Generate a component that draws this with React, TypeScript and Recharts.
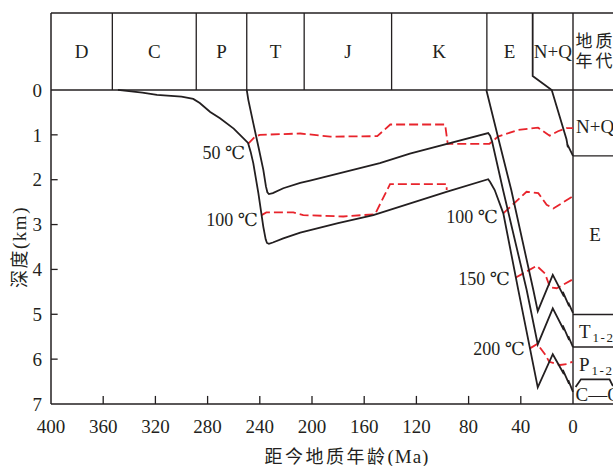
import React from "react";
import { ComposedChart, Line, XAxis, YAxis, ReferenceLine, ReferenceDot } from "recharts";

const SERIF = '"Liberation Serif", "Times New Roman", "DejaVu Serif", serif';
const CJK = '"Noto Sans CJK SC", "Noto Sans", sans-serif';
const INK = "#231f20";
const RED = "#e8242c";

// axes
const AGE_TICKS = [400, 360, 320, 280, 240, 200, 160, 120, 80, 40, 0];
const DEPTH_TICKS = [0, 1, 2, 3, 4, 5, 6, 7];
const AGE_DOMAIN = [-30.65, 400];
const HEADER_TOP = -1.716;
const DEPTH_DOMAIN = [HEADER_TOP, 7];

// geologic time band on top
const PERIOD_BOUNDS = [353, 288.7, 250, 206, 139, 66];
const PERIOD_NAMES = ["D", "C", "P", "T", "J", "K", "E", "N+Q"];
const PERIOD_MIDS = [376.5, 320.9, 269.4, 228, 172.5, 102.5, 48.6, 15.4];

// present-day stratigraphic column (tops, km)
const STRAT_TOPS = [1.471, 5.005, 5.729];

// burial curves [age Ma, depth km]
const NQ_BASE = [[30.9, HEADER_TOP], [30.9, -0.31], [16.3, 0], [5.0, 1.1], [3.9, 1.28], [4.5, 1.2], [0, 1.47]];
const E_BASE = [[66.4, 0], [56, 1.22], [47.3, 2.23], [30.4, 4.46], [27, 4.93], [15.5, 4.12], [7, 4.6], [7.8, 4.5], [3, 4.82], [3.6, 4.74], [0, 4.97]];
const T_BASE = [
  [250, 0], [248.8, 0.22], [245, 0.74], [241.1, 1.26], [237.3, 1.78], [235.3, 2.15], [234.2, 2.28], [233, 2.32],
  [230, 2.3], [222, 2.19], [209, 2.07], [201.5, 2.02], [148, 1.63], [125, 1.42], [65, 0.96], [63.5, 1.02],
  [62, 1.15], [53.6, 2.23], [35.5, 4.46], [27, 5.67], [15.5, 4.87], [7, 5.35], [7.8, 5.25], [3, 5.57], [3.6, 5.49], [0, 5.73],
];
const C_BASE = [
  [348.7, 0], [330, 0.06], [318.8, 0.11], [300, 0.15], [291, 0.2], [286, 0.29], [278, 0.49], [270.5, 0.63],
  [260, 0.86], [249, 1.18], [247, 1.38], [245, 1.63], [241.1, 2.3], [237.3, 3.05], [235.5, 3.33], [234.5, 3.41],
  [233, 3.43], [230, 3.4], [222, 3.31], [209, 3.18], [180, 2.97], [153, 2.79], [97, 2.27], [65, 1.99],
  [63.5, 2.05], [60, 2.23], [53.4, 2.75], [41.9, 4.46], [27, 6.63], [15.5, 5.89], [7, 6.33], [7.8, 6.24],
  [3, 6.55], [3.6, 6.47], [0, 6.73],
];
const BRACE = [[-2.0, 6.62], [-6.1, 6.45], [-28.0, 6.45], [-30.6, 6.6]];

// isotherms
const ISO_50 = [[249, 1.2], [244, 1.05], [240, 1.0], [209, 0.97], [186, 1.04], [150, 1.03], [140, 0.77], [98, 0.77], [96, 1.2], [64, 1.2], [57.5, 1.04], [42, 0.89], [26.8, 0.84], [17.9, 1.02], [11.5, 0.92], [5, 0.85], [0, 0.85]];
const ISO_100A = [[238.6, 2.79], [235, 2.73], [214.3, 2.73], [206.7, 2.79], [176, 2.82], [151.7, 2.77], [140.2, 2.1], [96.8, 2.1], [96.8, 2.23]];
const ISO_100B = [[53.4, 2.75], [35.6, 2.27], [26.6, 2.3], [20.2, 2.56], [15.1, 2.64], [0, 2.37]];
const ISO_150 = [[43.8, 4.18], [27.8, 3.92], [21.5, 4.09], [17.6, 4.4], [12.5, 4.42], [0, 4.22]];
const ISO_200 = [[33, 5.76], [27.4, 5.66], [21.5, 5.89], [18.2, 6.06], [10, 6.13], [4.8, 6.11], [0.5, 6.06]];

const ISO_LABELS = ["50 ℃", "100 ℃", "100 ℃", "150 ℃", "200 ℃"];
const ISO_LABEL_AT = [[251.3, 1.4], [241.4, 2.9], [57.5, 2.83], [48.3, 4.21], [36.8, 5.77]];

const toPts = (arr) => arr.map(([age, depth]) => ({ age, depth }));

const curves = [NQ_BASE, E_BASE, T_BASE, C_BASE, BRACE];
const isotherms = [ISO_50, ISO_100A, ISO_100B, ISO_150, ISO_200];

function TextAt({ x, y, render }) {
  return <ReferenceDot x={x} y={y} r={1} ifOverflow="visible" shape={(p) => render(p.cx, p.cy)} />;
}

const serifText = (s, anchor = "middle", size = 19) => (cx, cy) => (
  <text x={cx} y={cy} dy="0.35em" textAnchor={anchor} fontFamily={SERIF} fontSize={size} fill={INK}>
    {s}
  </text>
);

const subText = (main, sub) => (cx, cy) => (
  <text x={cx} y={cy} dy="0.35em" fontFamily={SERIF} fontSize={19} fill={INK}>
    <tspan>{main}</tspan>
    <tspan fontSize={13} dx={2} dy={4} letterSpacing={1.5}>{sub}</tspan>
  </text>
);

export default function App() {
  return (
    <div style={{ position: "absolute", left: 0, top: 0, width: 613, height: 466, background: "#fff" }}>
      <ComposedChart width={613} height={466} margin={{ top: 13, right: 0, bottom: 32, left: 21 }}>
        <XAxis
          type="number"
          dataKey="age"
          domain={AGE_DOMAIN}
          reversed
          allowDataOverflow
          ticks={AGE_TICKS}
          interval={0}
          tickLine={false}
          tickSize={0}
          tickMargin={16}
          height={30}
          axisLine={{ stroke: INK, strokeWidth: 1.5 }}
          tick={{ fill: INK, fontSize: 19, fontFamily: SERIF }}
        />
        <YAxis
          type="number"
          domain={DEPTH_DOMAIN}
          reversed
          allowDataOverflow
          ticks={DEPTH_TICKS}
          interval={0}
          tickLine={false}
          tickSize={0}
          tickMargin={9}
          width={30}
          axisLine={{ stroke: INK, strokeWidth: 1.5 }}
          tick={{ fill: INK, fontSize: 19, fontFamily: SERIF }}
        />

        {/* inward ticks */}
        {AGE_TICKS.filter((v) => v > 0 && v < 400).map((v) => (
          <ReferenceLine key={"xt" + v} segment={[{ x: v, y: 7 }, { x: v, y: 6.82 }]} stroke={INK} strokeWidth={1.3} />
        ))}
        {DEPTH_TICKS.filter((v) => v > 0 && v < 7).map((v) => (
          <ReferenceLine key={"yt" + v} segment={[{ x: 400, y: v }, { x: 394.9, y: v }]} stroke={INK} strokeWidth={1.3} />
        ))}

        {/* frame of time band + strat column */}
        <ReferenceLine y={HEADER_TOP} stroke={INK} strokeWidth={1.4} />
        <ReferenceLine y={0} stroke={INK} strokeWidth={1.4} />
        <ReferenceLine x={0} stroke={INK} strokeWidth={1.4} />
        {PERIOD_BOUNDS.map((b) => (
          <ReferenceLine key={"pb" + b} segment={[{ x: b, y: HEADER_TOP }, { x: b, y: 0 }]} stroke={INK} strokeWidth={1.3} />
        ))}
        {STRAT_TOPS.map((d) => (
          <ReferenceLine key={"st" + d} segment={[{ x: 0, y: d }, { x: AGE_DOMAIN[0], y: d }]} stroke={INK} strokeWidth={1.3} />
        ))}

        {isotherms.map((iso, i) => (
          <Line
            key={"iso" + i}
            data={toPts(iso)}
            dataKey="depth"
            type="linear"
            stroke={RED}
            strokeWidth={1.8}
            strokeDasharray="9 4"
            dot={false}
            activeDot={false}
            isAnimationActive={false}
          />
        ))}
        {curves.map((c, i) => (
          <Line
            key={"bc" + i}
            data={toPts(c)}
            dataKey="depth"
            type="linear"
            stroke={INK}
            strokeWidth={1.8}
            dot={false}
            activeDot={false}
            isAnimationActive={false}
          />
        ))}

        {PERIOD_NAMES.map((n, i) => (
          <TextAt key={"pn" + n} x={PERIOD_MIDS[i]} y={-0.86} render={serifText(n)} />
        ))}
        <TextAt
          x={-1.9}
          y={-0.87}
          render={(cx, cy) => (
            <text fontFamily={CJK} fontSize={17} fill={INK} letterSpacing={3}>
              <tspan x={cx} y={cy - 10} dy="0.35em">地质</tspan>
              <tspan x={cx} y={cy + 10} dy="0.35em">年代</tspan>
            </text>
          )}
        />

        {ISO_LABELS.map((s, i) => (
          <TextAt key={"il" + i} x={ISO_LABEL_AT[i][0]} y={ISO_LABEL_AT[i][1]} render={serifText(s, "end", 18)} />
        ))}

        <TextAt x={-2.3} y={0.8} render={serifText("N+Q", "start")} />
        <TextAt x={-16.9} y={3.22} render={serifText("E")} />
        <TextAt x={-4.6} y={5.37} render={subText("T", "1-2")} />
        <TextAt x={-4.6} y={6.11} render={subText("P", "1-2")} />
        <TextAt x={-1.9} y={6.78} render={serifText("C—O", "start")} />

        <TextAt
          x={173.2}
          y={8.18}
          render={(cx, cy) => (
            <text x={cx} y={cy} dy="0.35em" textAnchor="middle" fontFamily={CJK} fontSize={18} fill={INK} letterSpacing={2.5}>
              距今地质年龄<tspan fontFamily={SERIF} fontSize={19} letterSpacing={1}>(Ma)</tspan>
            </text>
          )}
        />
        <TextAt
          x={424.1}
          y={3.5}
          render={(cx, cy) => (
            <text x={cx} y={cy} dy="0.35em" textAnchor="middle" fontFamily={CJK} fontSize={18} fill={INK} letterSpacing={1.5} transform={`rotate(-90 ${cx} ${cy})`}>
              深度<tspan fontFamily={SERIF} fontSize={19}>(km)</tspan>
            </text>
          )}
        />
      </ComposedChart>
    </div>
  );
}
